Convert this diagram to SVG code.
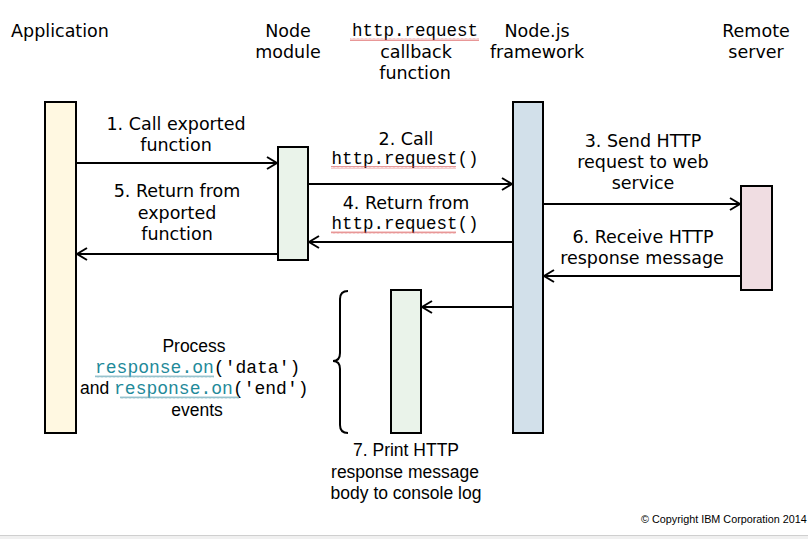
<svg xmlns="http://www.w3.org/2000/svg" width="808" height="539" viewBox="0 0 808 539">
<style>
.v{font-family:"DejaVu Sans",Verdana,sans-serif;font-size:17.5px;fill:#000;text-anchor:middle}
.a{font-family:"Liberation Sans",Arial,sans-serif;font-size:17.5px;fill:#000;text-anchor:middle}
.m{font-family:"Liberation Mono","Courier New",monospace;font-size:17.5px;fill:#000;text-anchor:middle}
.mm{font-family:"Liberation Mono","Courier New",monospace;font-size:18px}
.link{fill:#1f8a9a}
.bar{stroke:#000;stroke-width:2}
.conn{stroke:#000;stroke-width:2;fill:none;marker-end:url(#arr)}
.wr{fill:url(#wavyR)}
.wt{fill:url(#wavyT)}
</style>
<defs>
<marker id="arr" markerWidth="12" markerHeight="14" refX="11" refY="7" orient="auto" markerUnits="userSpaceOnUse">
<path d="M1,1 L11,7 L1,13" fill="none" stroke="#000" stroke-width="2"/>
</marker>
<pattern id="wavyR" width="4" height="3" patternUnits="userSpaceOnUse">
<path d="M0,2.5 L1,0.5 L2,2.5 L3,0.5 L4,2.5" fill="none" stroke="#d85050" stroke-width="0.6"/>
</pattern>
<pattern id="wavyT" width="4" height="3" patternUnits="userSpaceOnUse">
<path d="M0,2.5 L1,0.5 L2,2.5 L3,0.5 L4,2.5" fill="none" stroke="#6aa8b8" stroke-width="0.7"/>
</pattern>
</defs>
<rect width="808" height="539" fill="#fff"/>

<g id="application">
<text class="v" x="60" y="37">Application</text>
<rect class="bar" x="45" y="102" width="31" height="331" fill="#fff8e1"/>
</g>
<g id="node-module">
<text class="v" x="288" y="37">Node</text>
<text class="v" x="288" y="58">module</text>
<rect class="bar" x="278" y="147" width="30" height="113" fill="#eaf3ea"/>
</g>
<g id="callback">
<text class="m" x="415" y="36">http.request</text>
<rect class="wr" x="350" y="38" width="129" height="3"/>
<text class="v" x="416" y="58">callback</text>
<text class="v" x="415" y="79">function</text>
<rect class="bar" x="391" y="290" width="30" height="143" fill="#eaf3ea"/>
</g>
<g id="nodejs">
<text class="v" x="537" y="37">Node.js</text>
<text class="v" x="537" y="58">framework</text>
<rect class="bar" x="513" y="102" width="30" height="331" fill="#d2e0ea"/>
</g>
<g id="remote-server">
<text class="v" x="756" y="37">Remote</text>
<text class="v" x="756" y="58">server</text>
<rect class="bar" x="741" y="186" width="31" height="104" fill="#f0dde2"/>
</g>

<g id="connectors">
<line class="conn" x1="76" y1="163" x2="277" y2="163"/>
<line class="conn" x1="308" y1="184" x2="512" y2="184"/>
<line class="conn" x1="543" y1="204" x2="740" y2="204"/>
<line class="conn" x1="513" y1="242" x2="309" y2="242"/>
<line class="conn" x1="278" y1="254" x2="77" y2="254"/>
<line class="conn" x1="741" y1="276" x2="544" y2="276"/>
<line class="conn" x1="513" y1="307" x2="422" y2="307"/>
<path d="M348,291 Q340,291 340,299 L340,353 Q340,361 333,361 Q340,361 340,369 L340,425 Q340,433 348,433" fill="none" stroke="#000" stroke-width="2"/>
</g>

<g id="labels">
<text class="v" x="176" y="130">1. Call exported</text>
<text class="v" x="176" y="151">function</text>
<text class="v" x="177" y="197">5. Return from</text>
<text class="v" x="177" y="219">exported</text>
<text class="v" x="177" y="240">function</text>
<text class="v" x="406" y="145">2. Call</text>
<text class="m" x="405" y="164">http.request()</text>
<rect class="wr" x="331" y="166" width="125" height="3"/>
<text class="v" x="406" y="209">4. Return from</text>
<text class="m" x="405" y="229">http.request()</text>
<rect class="wr" x="331" y="231" width="125" height="3"/>
<text class="v" x="643" y="147">3. Send HTTP</text>
<text class="v" x="643" y="168">request to web</text>
<text class="v" x="643" y="189">service</text>
<text class="v" x="643" y="243">6. Receive HTTP</text>
<text class="v" x="642" y="264">response message</text>
<text class="a" x="194" y="352">Process</text>
<text class="a" x="95" y="373" style="text-anchor:start"><tspan class="mm link">response.on</tspan><tspan class="mm">('data')</tspan></text>
<rect class="wt" x="95" y="375" width="119" height="3"/>
<text class="a" x="80" y="394" style="text-anchor:start">and <tspan class="mm link">response.on</tspan><tspan class="mm">('end')</tspan></text>
<rect class="wt" x="120" y="396" width="119" height="3"/>
<text class="a" x="197" y="416">events</text>
<text class="a" x="406" y="456">7. Print HTTP</text>
<text class="a" x="405" y="478">response message</text>
<text class="a" x="406" y="499">body to console log</text>
</g>

<g id="footer">
<text x="641" y="523" style="font-family:'Liberation Sans',Arial,sans-serif;font-size:10.8px;fill:#000">© Copyright IBM Corporation 2014</text>
<rect x="0" y="535" width="808" height="4" fill="#f0f0f0"/>
<line x1="0" y1="535.5" x2="808" y2="535.5" stroke="#cfcfcf" stroke-width="1"/>
</g>
</svg>
